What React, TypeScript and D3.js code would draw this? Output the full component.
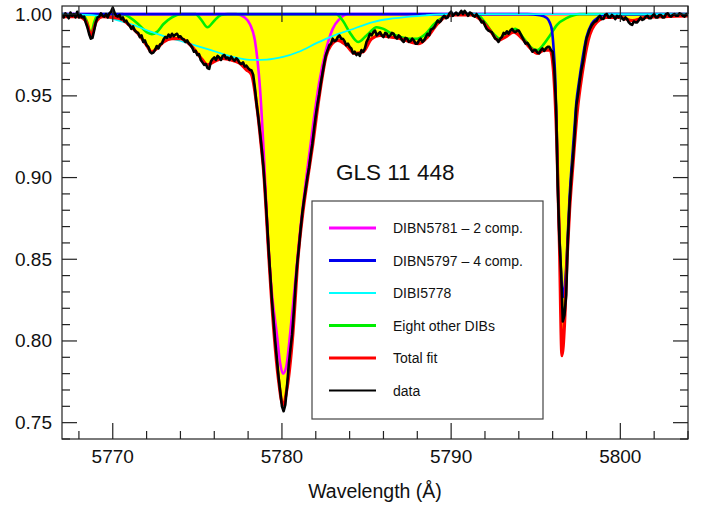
import React from 'react';
import * as d3 from 'd3';

// ---------- data ----------
const xMajorTicks = [5770, 5780, 5790, 5800];
const yMajorTicks = [0.75, 0.8, 0.85, 0.9, 0.95, 1.0];
const yTickLabels = ['0.75', '0.80', '0.85', '0.90', '0.95', '1.00'];

const objectName = 'GLS 11 448';
const xTitle = 'Wavelength (Å)';

// observed spectrum, regular grid (one row per Ångström)
const dataStart = 5767.0;
const dataStep = 0.1;
const dataFlux = [
  0.9995, 0.998, 1.0005, 0.999, 0.9975, 1.001, 0.999, 1.0, 0.998, 1.0015,
  0.998, 0.9995, 0.998, 0.9985, 0.995, 0.992, 0.988, 0.985, 0.9855, 0.990,
  0.995, 0.998, 0.9985, 1.0005, 0.999, 0.9985, 1.0, 0.998, 1.0005, 1.0015,
  1.004, 1.001, 0.999, 0.9985, 0.9995, 0.997, 0.998, 0.9955, 0.996, 0.994,
  0.993, 0.991, 0.9925, 0.990, 0.989, 0.9885, 0.986, 0.987, 0.983, 0.984,
  0.981, 0.980, 0.977, 0.976, 0.9765, 0.978, 0.9805, 0.979, 0.9815, 0.982,
  0.9845, 0.986, 0.9855, 0.9875, 0.986, 0.988, 0.9865, 0.9875, 0.988, 0.986,
  0.9865, 0.985, 0.9845, 0.983, 0.984, 0.982, 0.981, 0.9795, 0.977, 0.9775,
  0.975, 0.9755, 0.972, 0.9705, 0.969, 0.9695, 0.967, 0.9665, 0.971, 0.9725,
  0.9735, 0.972, 0.9745, 0.9735, 0.972, 0.9745, 0.975, 0.973, 0.9735, 0.972,
  0.974, 0.9725, 0.9715, 0.973, 0.972, 0.970, 0.9695, 0.9705, 0.968, 0.9685,
  0.967, 0.966, 0.9655, 0.963, 0.955, 0.945, 0.937, 0.928, 0.918, 0.907,
  0.893, 0.876, 0.858, 0.842, 0.826, 0.813, 0.800, 0.789, 0.778, 0.769,
  0.760, 0.757, 0.761, 0.772, 0.785, 0.795, 0.804, 0.818, 0.834, 0.847,
  0.857, 0.868, 0.878, 0.886, 0.893, 0.900, 0.906, 0.914, 0.921, 0.930,
  0.938, 0.945, 0.951, 0.958, 0.964, 0.970, 0.975, 0.978, 0.981, 0.982,
  0.985, 0.9835, 0.984, 0.986, 0.987, 0.985, 0.985, 0.9835, 0.981, 0.982,
  0.980, 0.979, 0.976, 0.977, 0.975, 0.976, 0.9745, 0.978, 0.977, 0.979,
  0.983, 0.985, 0.988, 0.987, 0.989, 0.990, 0.987, 0.988, 0.989, 0.987,
  0.986, 0.9885, 0.988, 0.986, 0.987, 0.9885, 0.988, 0.986, 0.985, 0.987,
  0.986, 0.984, 0.983, 0.9855, 0.985, 0.983, 0.9835, 0.985, 0.984, 0.982,
  0.982, 0.984, 0.985, 0.983, 0.984, 0.986, 0.988, 0.987, 0.9905, 0.991,
  0.992, 0.994, 0.996, 0.995, 0.996, 0.998, 0.999, 0.9975, 0.998, 1.0005,
  1.0015, 0.999, 1.0, 1.001, 0.9995, 1.0005, 1.002, 1.0, 1.002, 1.0005,
  0.999, 1.001, 1.0005, 0.999, 0.9985, 1.0, 0.9985, 0.997, 0.995, 0.9955,
  0.993, 0.991, 0.990, 0.9895, 0.989, 0.987, 0.985, 0.9845, 0.983, 0.985,
  0.986, 0.9885, 0.988, 0.9895, 0.988, 0.990, 0.991, 0.9895, 0.989, 0.990,
  0.990, 0.988, 0.986, 0.984, 0.982, 0.9825, 0.981, 0.979, 0.977, 0.978,
  0.978, 0.9765, 0.976, 0.978, 0.979, 0.9775, 0.979, 0.980, 0.980, 0.978,
  0.977, 0.966, 0.944, 0.895, 0.862, 0.842, 0.812, 0.816, 0.828, 0.862,
  0.884, 0.900, 0.912, 0.926, 0.944, 0.951, 0.959, 0.966, 0.971, 0.979,
  0.985, 0.988, 0.991, 0.993, 0.9945, 0.9955, 0.996, 0.998, 0.999, 0.997,
  0.997, 0.9995, 1.0, 0.998, 0.998, 0.9995, 0.9985, 0.997, 0.999, 0.998,
  0.999, 0.9975, 0.9965, 0.998, 0.997, 0.995, 0.994, 0.9935, 0.9955, 0.995,
  0.995, 0.9965, 0.998, 0.9965, 0.997, 0.9985, 0.999, 0.9975, 0.9975, 0.999,
  1.0, 0.998, 0.998, 0.9995, 0.9995, 0.998, 0.998, 1.0, 1.0005, 0.999,
  0.9985, 0.9995, 1.0, 0.999, 0.999, 1.0005, 1.0, 0.999, 0.9985, 1.0,
  0.999,
];

// total fit (red)
const fitPoints: [number, number][] = [
  [5767.0, 0.9985], [5768.0, 0.9985], [5768.4, 0.996], [5768.6, 0.990], [5768.72, 0.986],
  [5768.85, 0.990], [5769.05, 0.996], [5769.4, 0.9985], [5770.0, 0.998], [5770.5, 0.997],
  [5771.0, 0.993], [5771.5, 0.988], [5772.0, 0.981], [5772.3, 0.977], [5772.6, 0.979],
  [5773.0, 0.983], [5773.5, 0.985], [5774.0, 0.985], [5774.5, 0.982], [5775.0, 0.976],
  [5775.3, 0.972], [5775.6, 0.969], [5776.0, 0.971], [5776.5, 0.973], [5777.0, 0.972],
  [5777.5, 0.970], [5777.9, 0.966], [5778.2, 0.963], [5778.5, 0.945], [5778.76, 0.921],
  [5778.94, 0.901], [5779.06, 0.881], [5779.2, 0.856], [5779.53, 0.805], [5779.8, 0.776],
  [5780.06, 0.761], [5780.3, 0.771], [5780.65, 0.805], [5780.95, 0.851], [5781.24, 0.879],
  [5781.54, 0.901], [5781.83, 0.921], [5782.07, 0.940], [5782.37, 0.961], [5782.6, 0.974],
  [5782.9, 0.981], [5783.3, 0.984], [5783.8, 0.981], [5784.3, 0.976], [5784.8, 0.977],
  [5785.3, 0.985], [5785.8, 0.987], [5786.4, 0.986], [5787.0, 0.985], [5787.6, 0.983],
  [5788.1, 0.982], [5788.6, 0.986], [5789.1, 0.993], [5789.6, 0.998], [5790.2, 0.9995],
  [5791.2, 0.9995], [5791.8, 0.996], [5792.3, 0.990], [5792.8, 0.984], [5793.2, 0.986],
  [5793.7, 0.989], [5794.2, 0.985], [5794.7, 0.979], [5795.1, 0.976], [5795.5, 0.978],
  [5795.85, 0.978], [5796.05, 0.965], [5796.25, 0.92], [5796.4, 0.86], [5796.55, 0.791],
  [5796.7, 0.81], [5796.85, 0.85], [5797.0, 0.880], [5797.2, 0.908], [5797.45, 0.940],
  [5797.75, 0.964], [5798.1, 0.984], [5798.6, 0.995], [5799.2, 0.998], [5800.0, 0.998],
  [5800.7, 0.996], [5801.5, 0.998], [5804.0, 0.999],
];

// DIBN5781 - 2 comp. (magenta)
const dibN5781: [number, number][] = [
  [5767.0, 1.0], [5777.3, 1.0], [5777.8, 0.998], [5778.1, 0.994], [5778.4, 0.984],
  [5778.7, 0.955], [5778.95, 0.91], [5779.15, 0.866], [5779.4, 0.830], [5779.7, 0.804],
  [5779.9, 0.786], [5780.06, 0.780], [5780.25, 0.784], [5780.5, 0.806], [5780.8, 0.838],
  [5781.1, 0.870], [5781.5, 0.905], [5781.85, 0.933], [5782.2, 0.958], [5782.6, 0.978],
  [5783.0, 0.991], [5783.4, 0.997], [5783.9, 1.0], [5804.0, 1.0],
];

// DIBN5797 - 4 comp. (blue)
const dibN5797: [number, number][] = [
  [5767.0, 1.0], [5794.5, 1.0], [5795.25, 0.9993], [5795.66, 0.9977], [5795.84, 0.9946],
  [5795.96, 0.990], [5796.05, 0.980], [5796.15, 0.962], [5796.25, 0.925], [5796.35, 0.880],
  [5796.45, 0.852], [5796.55, 0.832], [5796.62, 0.827], [5796.7, 0.832], [5796.8, 0.845],
  [5796.9, 0.866], [5797.0, 0.888], [5797.1, 0.904], [5797.2, 0.918], [5797.3, 0.932],
  [5797.4, 0.946], [5797.55, 0.958], [5797.75, 0.972], [5798.0, 0.986], [5798.3, 0.994],
  [5798.7, 0.998], [5799.2, 1.0], [5804.0, 1.0],
];

// DIBI5778 (cyan)
const dibI5778: [number, number][] = [
  [5767.0, 1.0], [5768.0, 0.9998], [5769.25, 0.9989], [5770.2, 0.9965], [5771.2, 0.9934],
  [5772.2, 0.9895], [5773.2, 0.986], [5774.2, 0.983], [5775.16, 0.980], [5776.1, 0.977],
  [5777.1, 0.9738], [5778.1, 0.972], [5779.1, 0.9722], [5780.06, 0.9738], [5781.0, 0.977],
  [5782.07, 0.9824], [5783.0, 0.9866], [5784.02, 0.9903], [5785.38, 0.9952], [5786.4, 0.9972],
  [5787.39, 0.9983], [5788.5, 0.9993], [5789.93, 1.0], [5804.0, 1.0],
];

// Eight other DIBs (green)
const otherDibs: [number, number][] = [
  [5767.0, 1.0], [5768.2, 0.9995], [5768.5, 0.995], [5768.7, 0.987], [5768.9, 0.995],
  [5769.1, 0.9995], [5769.5, 1.0], [5770.6, 1.0], [5771.0, 0.998], [5771.5, 0.994],
  [5772.0, 0.989], [5772.3, 0.9878], [5772.6, 0.989], [5773.0, 0.994], [5773.5, 0.998],
  [5774.0, 1.0], [5774.9, 1.0], [5775.2, 0.997], [5775.6, 0.992], [5776.0, 0.996],
  [5776.4, 0.9995], [5776.8, 1.0], [5783.2, 1.0], [5783.6, 0.996], [5784.0, 0.989],
  [5784.5, 0.983], [5785.0, 0.987], [5785.6, 0.992], [5786.0, 0.991], [5786.5, 0.988],
  [5787.0, 0.986], [5787.5, 0.985], [5788.0, 0.985], [5788.5, 0.988], [5789.0, 0.994],
  [5789.5, 0.998], [5790.0, 1.0], [5791.5, 1.0], [5792.0, 0.995], [5792.5, 0.988],
  [5792.9, 0.985], [5793.3, 0.988], [5793.8, 0.991], [5794.3, 0.985], [5794.8, 0.979],
  [5795.1, 0.978], [5795.5, 0.982], [5795.84, 0.987], [5796.26, 0.9935], [5796.85, 0.9977],
  [5797.6, 1.0], [5804.0, 1.0],
];

const legendLabels = [
  'DIBN5781 – 2 comp.',
  'DIBN5797 – 4 comp.',
  'DIBI5778',
  'Eight other DIBs',
  'Total fit',
  'data',
];
const legendColors = ['#ff00ff', '#0000ee', '#00ffff', '#00ee00', '#ff0000', '#000000'];
const legendWidths = [3, 3, 2, 3, 3, 2];

// ---------- chart ----------
const W = 713;
const H = 506;
const M = { left: 62, right: 688, top: 6, bottom: 439 };
const FONT = "'Liberation Sans', Arial, Helvetica, sans-serif";

export default function App() {
  const x = d3.scaleLinear().domain([5767, 5804]).range([M.left, M.right]);
  const y = d3.scaleLinear().domain([0.74, 1.005]).range([M.bottom, M.top]);

  const dataPts: [number, number][] = dataFlux.map((v, i) => [dataStart + i * dataStep, v]);

  const smooth = d3
    .line<[number, number]>()
    .x((d) => x(d[0]))
    .y((d) => y(d[1]))
    .curve(d3.curveMonotoneX);
  const raw = d3
    .line<[number, number]>()
    .x((d) => x(d[0]))
    .y((d) => y(d[1]));
  const fill = d3
    .area<[number, number]>()
    .x((d) => x(d[0]))
    .y0(() => y(1.0))
    .y1((d) => y(d[1]))
    .curve(d3.curveMonotoneX);

  const xMinor = d3.range(5768, 5804.01, 2).filter((t) => !xMajorTicks.includes(t));
  const yMinor = d3
    .range(0.74, 1.0051, 0.01)
    .map((v) => Math.round(v * 100) / 100)
    .filter((v) => !yMajorTicks.some((m) => Math.abs(m - v) < 1e-6));

  const legendX0 = 312;
  const legendY0 = 201;
  const rowY = (i: number) => 228 + i * 32.5;

  return (
    <svg
      width={W}
      height={H}
      style={{ position: 'absolute', left: 0, top: 0, background: '#fff' }}
      fontFamily={FONT}
    >
      <defs>
        <clipPath id="plotClip">
          <rect x={M.left} y={M.top} width={M.right - M.left} height={M.bottom - M.top} />
        </clipPath>
      </defs>
      <rect x={0} y={0} width={W} height={H} fill="#fff" />

      <g clipPath="url(#plotClip)">
        <path d={fill(fitPoints) || ''} fill="#ffff00" stroke="none" />
        <path d={smooth(dibN5781) || ''} fill="none" stroke="#ff00ff" strokeWidth={2.6} />
        <path d={smooth(otherDibs) || ''} fill="none" stroke="#00ee00" strokeWidth={2.6} />
        <path d={smooth(dibN5797) || ''} fill="none" stroke="#0000ee" strokeWidth={2.6} />
        <path d={smooth(dibI5778) || ''} fill="none" stroke="#00ffff" strokeWidth={1.8} />
        <path d={smooth(fitPoints) || ''} fill="none" stroke="#ff0000" strokeWidth={3.2} />
        <path d={raw(dataPts) || ''} fill="none" stroke="#000" strokeWidth={2.6} strokeLinejoin="round" />
      </g>

      {/* frame */}
      <rect
        x={M.left}
        y={M.top}
        width={M.right - M.left}
        height={M.bottom - M.top}
        fill="none"
        stroke="#222"
        strokeWidth={1.2}
      />

      {/* x ticks */}
      {xMajorTicks.map((t) => (
        <g key={'xM' + t}>
          <line x1={x(t)} x2={x(t)} y1={M.bottom} y2={M.bottom - 16} stroke="#222" strokeWidth={1.2} />
          <line x1={x(t)} x2={x(t)} y1={M.top} y2={M.top + 16} stroke="#222" strokeWidth={1.2} />
          <text x={x(t)} y={456} textAnchor="middle" dominantBaseline="central" fontSize={19} fill="#111">
            {t}
          </text>
        </g>
      ))}
      {xMinor.map((t) => (
        <g key={'xm' + t}>
          <line x1={x(t)} x2={x(t)} y1={M.bottom} y2={M.bottom - 8} stroke="#222" strokeWidth={1.2} />
          <line x1={x(t)} x2={x(t)} y1={M.top} y2={M.top + 8} stroke="#222" strokeWidth={1.2} />
        </g>
      ))}

      {/* y ticks */}
      {yMajorTicks.map((t, i) => (
        <g key={'yM' + t}>
          <line x1={M.left} x2={M.left + 15} y1={y(t)} y2={y(t)} stroke="#222" strokeWidth={1.2} />
          <line x1={M.right} x2={M.right - 15} y1={y(t)} y2={y(t)} stroke="#222" strokeWidth={1.2} />
          <text x={52} y={y(t)} textAnchor="end" dominantBaseline="central" fontSize={19} fill="#111">
            {yTickLabels[i]}
          </text>
        </g>
      ))}
      {yMinor.map((t) => (
        <g key={'ym' + t}>
          <line x1={M.left} x2={M.left + 8} y1={y(t)} y2={y(t)} stroke="#222" strokeWidth={1.2} />
          <line x1={M.right} x2={M.right - 8} y1={y(t)} y2={y(t)} stroke="#222" strokeWidth={1.2} />
        </g>
      ))}

      <text x={(M.left + M.right) / 2} y={491} textAnchor="middle" dominantBaseline="central" fontSize={19.5} fill="#111">
        {xTitle}
      </text>

      <text x={336} y={172} dominantBaseline="central" fontSize={22.5} fill="#111">
        {objectName}
      </text>

      {/* legend */}
      <rect x={legendX0} y={legendY0} width={231} height={218} fill="#fff" stroke="#444" strokeWidth={1.2} />
      {legendLabels.map((lab, i) => (
        <g key={lab}>
          <line
            x1={329}
            x2={376}
            y1={rowY(i)}
            y2={rowY(i)}
            stroke={legendColors[i]}
            strokeWidth={legendWidths[i]}
          />
          <text x={393} y={rowY(i)} dominantBaseline="central" fontSize={14} fill="#111">
            {lab}
          </text>
        </g>
      ))}
    </svg>
  );
}
